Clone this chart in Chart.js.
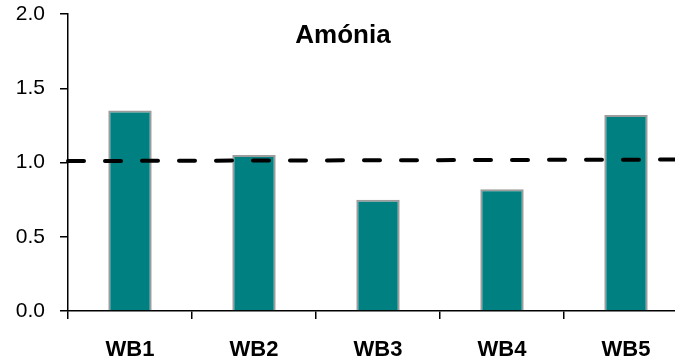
<!DOCTYPE html>
<html>
<head>
<meta charset="utf-8">
<script src="https://cdn.jsdelivr.net/npm/chart.js@4/dist/chart.umd.min.js"></script>
<style>
  html, body { margin: 0; padding: 0; background: #fff; overflow: hidden; }
  #wrap { width: 700px; height: 362px; }
</style>
</head>
<body>
<div id="wrap"><canvas id="chart" width="700" height="362"></canvas></div>
<script>
// values
const categories = ['WB1', 'WB2', 'WB3', 'WB4', 'WB5'];
const amonia = [1.35, 1.05, 0.75, 0.82, 1.32];
// dashed reference line (start / end, on a 0..5 category-width scale)
const limitX = [0, 5];
const limitY = [1.01, 1.02];
const titleText = 'Amónia';

// title sits inside the plot, so draw it ourselves
const titleInside = {
    id: 'titleInside',
    afterDraw(chart) {
        const ctx = chart.ctx;
        ctx.save();
        ctx.font = 'bold 26px "Liberation Sans", Arial, sans-serif';
        ctx.fillStyle = '#000';
        ctx.textAlign = 'center';
        ctx.textBaseline = 'alphabetic';
        ctx.fillText(titleText, 343, 43);
        ctx.restore();
    }
};

const canvas = document.querySelector('#chart');
new Chart(canvas.getContext('2d'), {
    type: 'bar',
    data: {
        labels: categories,
        datasets: [{
            type: 'line',
            data: limitX.map((x, i) => ({ x: x, y: limitY[i] })),
            xAxisID: 'x2',
            borderColor: '#000',
            borderWidth: 4,
            borderDash: [16, 21],
            borderCapStyle: 'round',
            pointRadius: 0,
            fill: false,
            clip: false,
            order: 0
        }, {
            data: amonia,
            backgroundColor: '#008080',
            borderColor: '#9c9c9c',
            borderWidth: 2,
            grouped: false,
            barPercentage: 0.35,
            categoryPercentage: 1,
            order: 1
        }]
    },
    options: {
        responsive: false,
        animation: false,
        layout: { padding: { top: 14, right: 12, left: 0, bottom: 0 } },
        plugins: {
            legend: { display: false },
            tooltip: { enabled: false }
        },
        scales: {
            x: {
                offset: true,
                border: { color: '#000', width: 1.5 },
                grid: { offset: true, drawOnChartArea: false, color: '#000', tickLength: 8, lineWidth: 1.5 },
                ticks: {
                    color: '#000',
                    padding: 18,
                    font: { family: '"Liberation Sans", Arial, sans-serif', size: 22, weight: 'bold' }
                },
                afterFit(scale) { scale.height = 51; }
            },
            x2: {
                type: 'linear',
                display: false,
                offset: false,
                min: 0,
                max: 5
            },
            y: {
                min: 0,
                max: 2,
                border: { color: '#000', width: 1.5 },
                grid: { drawOnChartArea: false, color: '#000', tickLength: 8, lineWidth: 1.5 },
                ticks: {
                    stepSize: 0.5,
                    color: '#000',
                    padding: 15,
                    font: { family: '"Liberation Sans", Arial, sans-serif', size: 21 },
                    callback: v => v.toFixed(1)
                },
                afterFit(scale) {
                    scale.width = 68;
                    scale.paddingTop = 0;
                    scale.paddingBottom = 0;
                }
            }
        }
    },
    plugins: [titleInside]
});
</script>
</body>
</html>
